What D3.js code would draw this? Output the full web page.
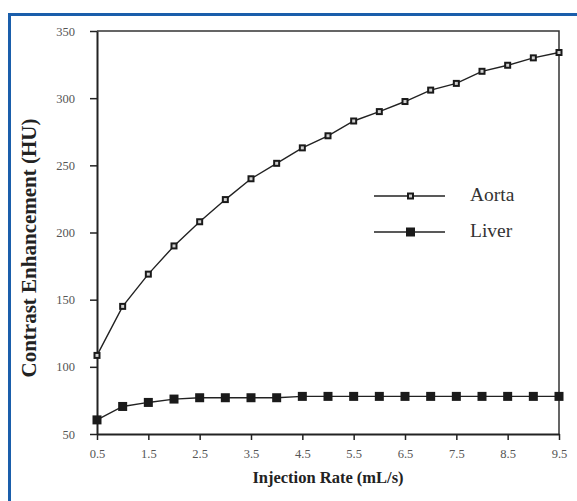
<!DOCTYPE html>
<html>
<head>
<meta charset="utf-8">
<script src="https://cdn.jsdelivr.net/npm/d3@7"></script>
<style>
  html, body { margin: 0; padding: 0; background: #fff; }
  svg { display: block; }
</style>
</head>
<body>
<svg id="chart" width="577" height="501"></svg>
<script>
// Injection rates (mL/s)
const rates = [0.5, 1.0, 1.5, 2.0, 2.5, 3.0, 3.5, 4.0, 4.5, 5.0, 5.5, 6.0, 6.5, 7.0, 7.5, 8.0, 8.5, 9.0, 9.5];
// Peak enhancement (HU)
const aorta = [108.5, 145, 169, 190, 208, 224.5, 240, 251.5, 263, 272, 283, 290, 297.5, 306, 311, 320, 324.5, 330, 334];
const liver = [60.5, 70.5, 73.5, 76, 77, 77, 77, 77, 78, 78, 78, 78, 78, 78, 78, 78, 78, 78, 78];
const seriesNames = ["Aorta", "Liver"];
const xTicks = [0.5, 1.5, 2.5, 3.5, 4.5, 5.5, 6.5, 7.5, 8.5, 9.5];
const yTicks = [50, 100, 150, 200, 250, 300, 350];
const xTitle = "Injection Rate (mL/s)";
const yTitle = "Contrast Enhancement (HU)";

const svg = d3.select("#chart");
const plotL = 97, plotR = 559, plotT = 31, plotB = 434;

const x = d3.scaleLinear().domain([0.5, 9.5]).range([plotL, plotR]);
const y = d3.scaleLinear().domain([50, 350]).range([plotB, plotT]);

// outer blue frame (runs off the right and bottom edges)
svg.append("path")
  .attr("d", `M9.5,${501 + 5} V14.5 H${577 + 5}`)
  .attr("fill", "none")
  .attr("stroke", "#1a5eab")
  .attr("stroke-width", 3);

// plot box: top and right edges
svg.append("path")
  .attr("d", `M${plotL},${plotT} H${plotR} V${plotB}`)
  .attr("fill", "none")
  .attr("stroke", "#333")
  .attr("stroke-width", 1.5);

const serif = "'Liberation Serif', 'Times New Roman', serif";

// y axis
const yAxis = svg.append("g")
  .attr("transform", `translate(${plotL},0)`)
  .call(d3.axisLeft(y).tickValues(yTicks).tickSize(7).tickSizeOuter(0).tickPadding(15));
yAxis.select(".domain").attr("stroke", "#222").attr("stroke-width", 2);
yAxis.selectAll(".tick line").attr("stroke", "#222").attr("stroke-width", 1.5);
yAxis.selectAll(".tick text")
  .attr("font-family", serif).attr("font-size", 12.5).attr("fill", "#555");

// x axis
const xAxis = svg.append("g")
  .attr("transform", `translate(0,${plotB})`)
  .call(d3.axisBottom(x).tickValues(xTicks).tickFormat(d3.format(".1f")).tickSize(6).tickSizeOuter(0).tickPadding(9));
xAxis.select(".domain").attr("stroke", "#222").attr("stroke-width", 2);
xAxis.selectAll(".tick line").attr("stroke", "#222").attr("stroke-width", 1.5);
xAxis.selectAll(".tick text")
  .attr("font-family", serif).attr("font-size", 12.5).attr("fill", "#555");

// axis titles
svg.append("text")
  .attr("x", 328).attr("y", 483)
  .attr("text-anchor", "middle")
  .attr("font-family", serif).attr("font-weight", "bold").attr("font-size", 16.5)
  .attr("fill", "#222")
  .text(xTitle);

svg.append("text")
  .attr("transform", `translate(36,248) rotate(-90)`)
  .attr("text-anchor", "middle")
  .attr("font-family", serif).attr("font-weight", "bold").attr("font-size", 21)
  .attr("fill", "#222")
  .text(yTitle);

const line = d3.line().x(d => x(d[0])).y(d => y(d[1]));

function drawMarkers(g, coords, filled) {
  const s = filled ? 9 : 5;
  g.selectAll(null).data(coords).enter().append("rect")
    .attr("x", d => d[0] - s / 2).attr("y", d => d[1] - s / 2)
    .attr("width", s).attr("height", s)
    .attr("fill", filled ? "#1a1a1a" : "#d0d0d0")
    .attr("stroke", "#1a1a1a")
    .attr("stroke-width", filled ? 0 : 2);
}

function drawSeries(values, filled) {
  const pts = rates.map((r, i) => [r, values[i]]);
  svg.append("path").datum(pts)
    .attr("d", line)
    .attr("fill", "none").attr("stroke", "#222").attr("stroke-width", 1.4);
  drawMarkers(svg.append("g"), pts.map(p => [x(p[0]), y(p[1])]), filled);
}

drawSeries(aorta, false);
drawSeries(liver, true);

// legend
const legendRows = [{ name: seriesNames[0], filled: false, ly: 196 },
                    { name: seriesNames[1], filled: true, ly: 232 }];
legendRows.forEach(r => {
  svg.append("line")
    .attr("x1", 374).attr("x2", 445).attr("y1", r.ly).attr("y2", r.ly)
    .attr("stroke", "#222").attr("stroke-width", 1.4);
  drawMarkers(svg.append("g"), [[410.5, r.ly]], r.filled);
  svg.append("text")
    .attr("x", 470).attr("y", r.ly + 5)
    .attr("font-family", serif).attr("font-size", 19.5).attr("fill", "#333")
    .text(r.name);
});
</script>
</body>
</html>
